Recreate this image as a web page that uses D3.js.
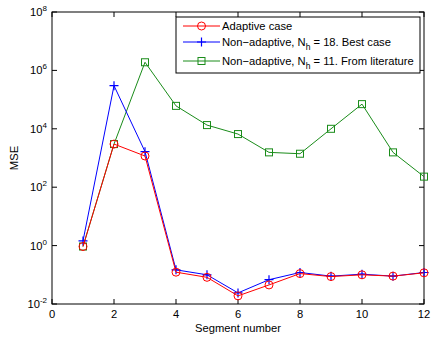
<!DOCTYPE html>
<html>
<head>
<meta charset="utf-8">
<script src="https://cdn.jsdelivr.net/npm/d3@7"></script>
<style>
  body { margin: 0; background: #fff; }
  svg text { font-family: "Liberation Sans", Arial, sans-serif; fill: #000; }
</style>
</head>
<body>
<svg id="chart" width="432" height="339"></svg>
<script>
// segments and MSE values
var segments = [1, 2, 3, 4, 5, 6, 7, 8, 9, 10, 11, 12]
var adaptive = [0.93, 3000, 1170, 0.123, 0.082, 0.019, 0.045, 0.11, 0.087, 0.10, 0.09, 0.117]
var bestCase = [1.45, 3.0e5, 1650, 0.148, 0.10, 0.024, 0.068, 0.12, 0.09, 0.105, 0.09, 0.12]
var literature = [0.93, 3000, 1.9e6, 6.1e4, 1.34e4, 6600, 1560, 1400, 1.0e4, 7.0e4, 1560, 230]
var xTicks = [0, 2, 4, 6, 8, 10, 12]
var yExps = [-2, 0, 2, 4, 6, 8]

var margin = { top: 12, right: 8, bottom: 35, left: 52 }
var svg = d3.select("#chart"),
  width = +svg.attr("width") - margin.left - margin.right,
  height = +svg.attr("height") - margin.top - margin.bottom
var fs = 11.2

var g = svg.append("g").attr("transform", "translate(" + margin.left + "," + margin.top + ")")

var x = d3.scaleLinear().domain([0, 12]).range([0, width])
var y = d3.scaleLog().domain([1e-2, 1e8]).range([height, 0])

// ticks inside the box, on all four sides
var tickLen = 5
xTicks.forEach(function (t) {
  g.append("line").attr("x1", x(t)).attr("x2", x(t)).attr("y1", height).attr("y2", height - tickLen).attr("stroke", "#000")
  g.append("line").attr("x1", x(t)).attr("x2", x(t)).attr("y1", 0).attr("y2", tickLen).attr("stroke", "#000")
  g.append("text").attr("x", x(t)).attr("y", height + 14).attr("text-anchor", "middle")
    .attr("font-size", fs).text(t)
})
yExps.forEach(function (e) {
  var yy = y(Math.pow(10, e))
  g.append("line").attr("x1", 0).attr("x2", tickLen).attr("y1", yy).attr("y2", yy).attr("stroke", "#000")
  g.append("line").attr("x1", width).attr("x2", width - tickLen).attr("y1", yy).attr("y2", yy).attr("stroke", "#000")
  var lab = g.append("text").attr("x", -5).attr("y", yy + 4).attr("text-anchor", "end").attr("font-size", fs)
  lab.append("tspan").text("10")
  lab.append("tspan").attr("dy", -5).attr("font-size", 8).text(e)
})

g.append("rect").attr("width", width).attr("height", height)
  .attr("fill", "none").attr("stroke", "#000").attr("stroke-width", 1)

svg.append("text").attr("x", margin.left + x(6)).attr("y", 332).attr("text-anchor", "middle")
  .attr("font-size", fs).text("Segment number")
svg.append("text").attr("transform", "translate(18," + (margin.top + height / 2) + ") rotate(-90)")
  .attr("text-anchor", "middle").attr("font-size", fs).text("MSE")

var line = d3.line().x(function (d) { return x(d[0]) }).y(function (d) { return y(d[1]) })

// draw order: green, blue, red on top (as in the figure)
var series = [
  { values: literature, color: "#1a8c1a", marker: "square" },
  { values: bestCase, color: "#0000ff", marker: "plus" },
  { values: adaptive, color: "#ff0000", marker: "circle" }
]

function drawMarker(sel, type, color, cx, cy) {
  if (type == "circle") {
    sel.append("circle").attr("cx", cx).attr("cy", cy).attr("r", 4)
      .attr("fill", "none").attr("stroke", color)
  } else if (type == "square") {
    sel.append("rect").attr("x", cx - 3.5).attr("y", cy - 3.5).attr("width", 7).attr("height", 7)
      .attr("fill", "none").attr("stroke", color)
  } else {
    sel.append("path").attr("d", "M" + (cx - 4.5) + "," + cy + "h9M" + cx + "," + (cy - 4.5) + "v9")
      .attr("stroke", color).attr("stroke-width", 1.2)
  }
}

series.forEach(function (s) {
  var pts = segments.map(function (sg, i) { return [sg, s.values[i]] })
  g.append("path").datum(pts).attr("d", line).attr("fill", "none").attr("stroke", s.color).attr("stroke-width", 1)
  pts.forEach(function (p) { drawMarker(g, s.marker, s.color, x(p[0]), y(p[1])) })
})

// legend
var lg = svg.append("g").attr("transform", "translate(176,17)")
lg.append("rect").attr("width", 244).attr("height", 56).attr("fill", "#fff").attr("stroke", "#000")
var legendItems = [
  { color: "#ff0000", marker: "circle", label: "Adaptive case", yy: 9 },
  { color: "#0000ff", marker: "plus", label: ["Non\u2212adaptive, N", "h", " = 18. Best case"], yy: 25 },
  { color: "#1a8c1a", marker: "square", label: ["Non\u2212adaptive, N", "h", " = 11. From literature"], yy: 44 }
]
legendItems.forEach(function (it) {
  lg.append("line").attr("x1", 7).attr("x2", 44).attr("y1", it.yy).attr("y2", it.yy).attr("stroke", it.color)
  drawMarker(lg, it.marker, it.color, 25.5, it.yy)
  var t = lg.append("text").attr("x", 46).attr("y", it.yy + 4).attr("font-size", fs)
  if (typeof it.label == "string") {
    t.text(it.label)
  } else {
    t.append("tspan").text(it.label[0])
    t.append("tspan").attr("dy", 4).attr("font-size", 8.5).text(it.label[1])
    t.append("tspan").attr("dy", -4).text(it.label[2])
  }
})
</script>
</body>
</html>
